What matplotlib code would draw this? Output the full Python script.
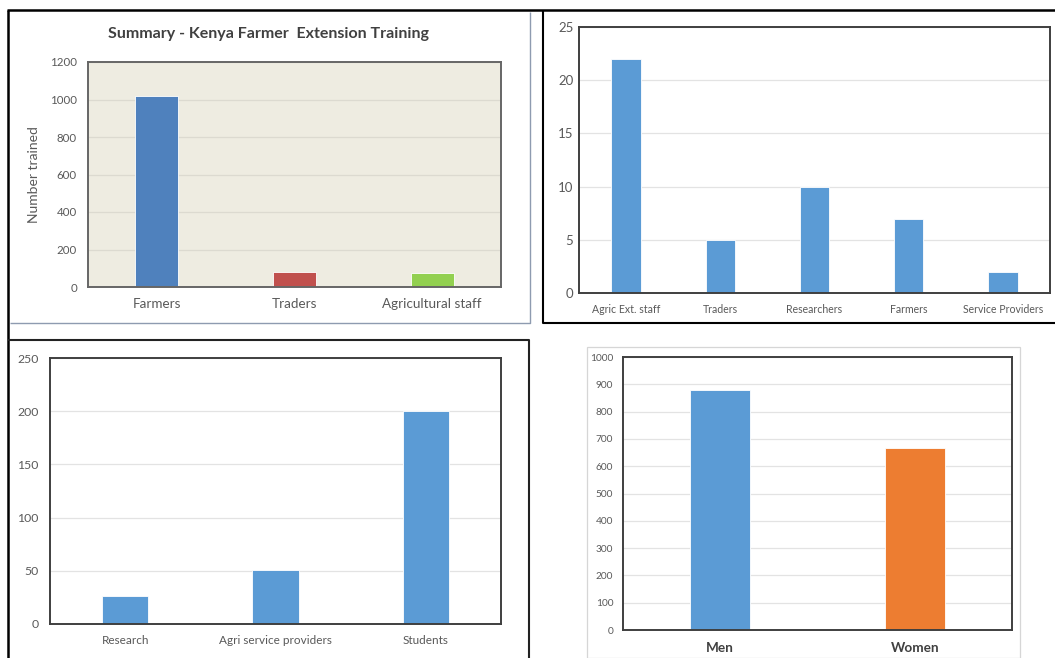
import matplotlib
matplotlib.use("Agg")
import matplotlib.pyplot as plt
from matplotlib.lines import Line2D
from matplotlib.patches import Rectangle
import numpy as np

plt.rcParams['font.family'] = ['Lato', 'DejaVu Sans']

# ---- data ----
summary_cats = ["Farmers", "Traders", "Agricultural staff"]
summary_vals = [1020, 82, 74]
summary_colors = ["#4F81BD", "#C0504D", "#92D050"]

staff_cats = ["Agric Ext. staff", "Traders", "Researchers", "Farmers", "Service Providers"]
staff_vals = [22, 5, 10, 7, 2]

group_cats = ["Research", "Agri service providers", "Students"]
group_vals = [26, 51, 200]

gender_cats = ["Men", "Women"]
gender_vals = [880, 667]
gender_colors = ["#5B9BD5", "#ED7D31"]

W, H = 1055, 658
fig = plt.figure(figsize=(W / 100, H / 100), dpi=100)
fig.patch.set_facecolor("white")


def px_axes(x0, y0, x1, y1):
    # pixel box (top-left origin) -> figure axes
    return fig.add_axes([x0 / W, 1 - y1 / H, (x1 - x0) / W, (y1 - y0) / H])


def fline(xs, ys, color, lw):
    fig.add_artist(Line2D([x / W for x in xs], [1 - y / H for y in ys],
                          color=color, lw=lw, transform=fig.transFigure,
                          solid_capstyle="butt"))


def style(ax, ymax, step, tick_fs, xl_fs, ypad, xpad, frame="#3F3F3F", tick_col="#595959",
          xl_weight="normal", xl_col="#595959"):
    ax.set_ylim(0, ymax)
    ax.set_yticks(np.arange(0, ymax + step / 2, step))
    ax.grid(axis="y", color="#E3E3E3", lw=0.9)
    ax.set_axisbelow(True)
    for s in ax.spines.values():
        s.set_color(frame)
        s.set_linewidth(1.4)
    ax.tick_params(length=0)
    ax.tick_params(axis="y", labelsize=tick_fs, labelcolor=tick_col, pad=ypad)
    ax.tick_params(axis="x", labelsize=xl_fs, labelcolor=xl_col, pad=xpad)
    for t in ax.get_xticklabels():
        t.set_fontweight(xl_weight)


# ---- panel 1: summary ----
ax1 = px_axes(88, 62, 501, 287)
ax1.set_facecolor("#EEECE1")
x = np.arange(len(summary_cats))
ax1.bar(x, summary_vals, width=0.31, color=summary_colors, edgecolor="white", lw=0.6)
ax1.set_xlim(-0.5, len(summary_cats) - 0.5)
ax1.set_xticks(x)
ax1.set_xticklabels(summary_cats)
style(ax1, 1200, 200, 8.3, 9.7, 8, 8, frame="#666666")
ax1.grid(axis="y", color="#DCDAD0", lw=0.9)
ax1.set_ylabel("Number trained", fontsize=10, color="#595959", labelpad=7)
fig.text(268 / W, 1 - 34 / H, "Summary - Kenya Farmer  Extension Training",
         ha="center", va="center", fontsize=11.5, fontweight="bold", color="#404040")

# ---- panel 2: staff ----
ax2 = px_axes(579, 27, 1050, 293)
x = np.arange(len(staff_cats))
ax2.bar(x, staff_vals, width=0.31, color="#5B9BD5", edgecolor="white", lw=0.6)
ax2.set_xlim(-0.5, len(staff_cats) - 0.5)
ax2.set_xticks(x)
ax2.set_xticklabels(staff_cats)
style(ax2, 25, 5, 9.5, 7.6, 4, 8)

# ---- panel 3: groups ----
ax3 = px_axes(50, 358, 501, 624)
x = np.arange(len(group_cats))
ax3.bar(x, group_vals, width=0.31, color="#5B9BD5", edgecolor="white", lw=0.6)
ax3.set_xlim(-0.5, len(group_cats) - 0.5)
ax3.set_xticks(x)
ax3.set_xticklabels(group_cats)
style(ax3, 250, 50, 8.8, 8.5, 8, 8)

# ---- panel 4: gender ----
ax4 = px_axes(623, 357, 1012, 630)
x = np.arange(len(gender_cats))
ax4.bar(x, gender_vals, width=0.31, color=gender_colors, edgecolor="white", lw=0.6)
ax4.set_xlim(-0.5, len(gender_cats) - 0.5)
ax4.set_xticks(x)
ax4.set_xticklabels(gender_cats)
style(ax4, 1000, 100, 7.3, 9.8, 7, 9, xl_weight="bold", xl_col="#404040")

# ---- collage borders ----
fline([7, 1055], [10, 10], "black", 1.8)
fline([8, 8], [10, 658], "black", 1.8)
# panel 1 inner frame
fline([530, 530, 10], [12, 323, 323], "#8E9BB0", 1.0)
# panel 2 frame
fline([543, 543, 1055], [10, 323, 323], "black", 1.5)
# panel 3 frame
fline([8, 529, 529], [340, 340, 658], "#222222", 1.5)
# panel 4 frame
fig.add_artist(Rectangle((587 / W, 0), (1020 - 587) / W, 1 - 347 / H,
                         transform=fig.transFigure, fill=False, ec="#D6D6D6", lw=0.9))

fig.savefig("out.png", dpi=100)
